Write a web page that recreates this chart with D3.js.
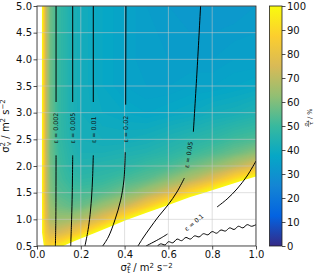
<!DOCTYPE html>
<html>
<head>
<meta charset="utf-8">
<script src="https://cdn.jsdelivr.net/npm/d3@7"></script>
<style>
  body { margin: 0; background: #fff; }
  svg { display: block; font-family: "DejaVu Sans", sans-serif; }
</style>
</head>
<body>
<svg id="chart" width="320" height="277"></svg>
<script>
// sigma_tau / tau in % on a coarse grid
// columns = sigma_t^2, rows = sigma_v^2 (bottom row first); >100 is blank
const gridX = [0, 0.02, 0.04, 0.06, 0.1, 0.15, 0.2, 0.3, 0.4, 0.5, 0.6, 0.7, 0.8, 0.9, 1.0]
const gridY = [0.5, 0.75, 1.0, 1.25, 1.5, 1.75, 2.0, 2.25, 2.5, 3.0, 3.5, 4.0, 5.0]
const ratio = [
  [200, 110, 92, 90, 96, 106, 115, 140, 170, 200, 200, 200, 200, 200, 200],
  [200, 103, 84, 76, 75, 80, 88, 106, 124, 150, 180, 200, 200, 200, 200],
  [200, 104, 78, 67, 64, 65, 68, 79, 97, 114, 130, 160, 180, 200, 200],
  [200, 104, 76, 64, 58, 56, 57, 64, 72, 86, 102, 118, 133, 160, 180],
  [200, 104, 74, 61, 54, 52, 52, 54, 59, 66, 76, 91, 105, 120, 133],
  [200, 104, 73, 60, 52, 49, 48, 49, 52, 55, 61, 68, 78, 92, 106],
  [200, 104, 73, 59, 51, 47, 45, 46, 47, 50, 52, 57, 62, 69, 78],
  [200, 104, 72, 58, 50, 46, 43, 43, 44, 45, 47, 50, 53, 57, 62],
  [200, 104, 72, 58, 49, 45, 42, 41, 41, 42, 44, 46, 48, 51, 53],
  [200, 104, 72, 58, 49, 44, 41, 39, 38, 37, 38, 39, 41, 42, 44],
  [200, 104, 72, 58, 49, 44, 41, 38, 36, 35, 35, 36, 36, 37, 38],
  [200, 104, 72, 58, 49, 44, 41, 38, 36, 34, 34, 34, 34, 35, 35],
  [200, 104, 72, 58, 49, 44, 41, 38, 36, 34, 33, 32, 32, 32, 33]
]

// epsilon contour lines (pieces are cut where the label sits)
const epsLines = [
  [[0.087, 5.0], [0.087, 3.2]],
  [[0.087, 2.2], [0.086, 1.0], [0.084, 0.5]],
  [[0.163, 5.0], [0.163, 3.2]],
  [[0.163, 2.2], [0.161, 1.5], [0.158, 1.0], [0.154, 0.5]],
  [[0.257, 5.0], [0.257, 3.2]],
  [[0.257, 2.2], [0.254, 1.8], [0.249, 1.4], [0.24, 1.0], [0.231, 0.75], [0.219, 0.5]],
  [[0.406, 5.0], [0.405, 3.15]],
  [[0.403, 2.26], [0.397, 1.74], [0.382, 1.36], [0.356, 0.99], [0.326, 0.67], [0.30, 0.5]],
  [[0.747, 5.0], [0.731, 3.8], [0.714, 2.64]],
  [[0.673, 1.775], [0.639, 1.512], [0.598, 1.269], [0.553, 1.044], [0.516, 0.837], [0.484, 0.65], [0.461, 0.5]],
  [[0.498, 0.5], [0.562, 0.64], [0.596, 0.725]],
  [[0.822, 1.231], [0.868, 1.381], [0.913, 1.569], [0.959, 1.812], [1.0, 2.094]]
]
// the noisy unlabelled contour at the bottom right
const wavyLine = [
  [0.55, 0.50], [0.565, 0.54], [0.585, 0.52], [0.60, 0.58], [0.62, 0.56], [0.64, 0.63],
  [0.66, 0.60], [0.68, 0.66], [0.70, 0.63], [0.72, 0.69], [0.74, 0.67], [0.76, 0.73],
  [0.78, 0.71], [0.80, 0.77], [0.82, 0.74], [0.84, 0.80], [0.86, 0.78], [0.88, 0.84],
  [0.90, 0.81], [0.92, 0.87], [0.94, 0.84], [0.96, 0.90], [0.98, 0.87], [1.0, 0.90]
]
const epsLabels = [
  { text: "ε = 0.002", x: 0.087, y: 2.71, angle: -90 },
  { text: "ε = 0.005", x: 0.163, y: 2.71, angle: -90 },
  { text: "ε = 0.01", x: 0.258, y: 2.68, angle: -90 },
  { text: "ε = 0.02", x: 0.404, y: 2.69, angle: -90 },
  { text: "ε = 0.05", x: 0.692, y: 2.21, angle: -81 },
  { text: "ε = 0.1", x: 0.717, y: 0.94, angle: -40 }
]

const xTicks = [0.0, 0.2, 0.4, 0.6, 0.8, 1.0]
const yTicks = [0.5, 1.0, 1.5, 2.0, 2.5, 3.0, 3.5, 4.0, 4.5, 5.0]
const cbTicks = [0, 10, 20, 30, 40, 50, 60, 70, 80, 90, 100]

const parula = ["#352a87", "#0363e1", "#1485d4", "#06a7c6", "#38b99e", "#92bf73", "#d9ba56", "#fcce2e", "#f9fb0e"]

const pLeft = 37, pRight = 256, pTop = 6, pBottom = 246
const svg = d3.select("#chart")

const x = d3.scaleLinear().domain([0, 1]).range([pLeft, pRight])
const y = d3.scaleLinear().domain([0.5, 5]).range([pBottom, pTop])
const color = d3.scaleLinear().domain(d3.range(9).map(i => i * 12.5)).range(parula).clamp(true)

svg.append("clipPath").attr("id", "plotclip")
  .append("rect").attr("x", pLeft).attr("y", pTop).attr("width", pRight - pLeft).attr("height", pBottom - pTop)

// filled field: one band per percent
const n = gridX.length, m = gridY.length
const ix = d3.scaleLinear().domain(d3.range(n)).range(gridX)
const iy = d3.scaleLinear().domain(d3.range(m)).range(gridY)
const proj = d3.geoTransform({
  point: function(px, py) { this.stream.point(x(ix(px - 0.5)), y(iy(py - 0.5))) }
})
const bands = d3.contours().size([n, m]).thresholds(d3.range(0, 101))(ratio.flat())

const plot = svg.append("g").attr("clip-path", "url(#plotclip)")
plot.append("rect").attr("x", pLeft).attr("y", pTop).attr("width", pRight - pLeft).attr("height", pBottom - pTop).attr("fill", color(0))
plot.selectAll("path.band").data(bands).join("path")
  .attr("class", "band")
  .attr("d", d3.geoPath(proj))
  .attr("fill", d => d.value >= 100 ? "#fff" : color(d.value + 0.5))

// grid
plot.selectAll("line.gx").data(xTicks).join("line")
  .attr("class", "gx")
  .attr("x1", d => x(d)).attr("x2", d => x(d)).attr("y1", pTop).attr("y2", pBottom)
  .attr("stroke", "#c8c8c8").attr("stroke-opacity", 0.7).attr("stroke-width", 0.8)
plot.selectAll("line.gy").data(yTicks).join("line")
  .attr("class", "gy")
  .attr("y1", d => y(d)).attr("y2", d => y(d)).attr("x1", pLeft).attr("x2", pRight)
  .attr("stroke", "#c8c8c8").attr("stroke-opacity", 0.7).attr("stroke-width", 0.8)

// epsilon contours
const line = d3.line().x(d => x(d[0])).y(d => y(d[1])).curve(d3.curveCatmullRom)
plot.selectAll("path.eps").data(epsLines.concat([wavyLine])).join("path")
  .attr("class", "eps")
  .attr("d", line).attr("fill", "none").attr("stroke", "#000").attr("stroke-width", 1)

plot.selectAll("text.lab").data(epsLabels).join("text")
  .attr("class", "lab")
  .attr("transform", d => `translate(${x(d.x)},${y(d.y)}) rotate(${d.angle})`)
  .attr("text-anchor", "middle").attr("dy", "0.35em")
  .attr("font-size", 6.3).attr("fill", "#111")
  .text(d => d.text)

// frame + axes
svg.append("rect").attr("x", pLeft).attr("y", pTop).attr("width", pRight - pLeft).attr("height", pBottom - pTop)
  .attr("fill", "none").attr("stroke", "#222").attr("stroke-width", 0.8)

const xAxis = svg.append("g").attr("transform", `translate(0,${pBottom})`)
  .call(d3.axisBottom(x).tickValues(xTicks).tickFormat(d3.format(".1f")).tickSize(3.5).tickPadding(1.5))
const yAxis = svg.append("g").attr("transform", `translate(${pLeft},0)`)
  .call(d3.axisLeft(y).tickValues(yTicks).tickFormat(d3.format(".1f")).tickSize(3.5).tickPadding(1.5))
;[xAxis, yAxis].forEach(a => {
  a.select(".domain").remove()
  a.selectAll("text").attr("font-size", 10).attr("font-family", "DejaVu Sans").attr("fill", "#111")
  a.selectAll("line").attr("stroke", "#222").attr("stroke-width", 0.8)
})

// axis labels
svg.append("text").attr("x", (pLeft + pRight) / 2).attr("y", 271)
  .attr("text-anchor", "middle").attr("font-size", 10).attr("fill", "#111")
  .call(t => {
    t.append("tspan").text("σ")
    t.append("tspan").attr("font-size", 7).attr("dy", -3.5).text("2")
    t.append("tspan").attr("font-size", 7).attr("dx", -4).attr("dy", 5.5).text("t")
    t.append("tspan").attr("dy", -2).text(" / m")
    t.append("tspan").attr("font-size", 7).attr("dy", -3.5).text("2")
    t.append("tspan").attr("dy", 3.5).text(" s")
    t.append("tspan").attr("font-size", 7).attr("dy", -3.5).text("−2")
  })

svg.append("text").attr("transform", `translate(9,${(pTop + pBottom) / 2}) rotate(-90)`)
  .attr("text-anchor", "middle").attr("font-size", 10).attr("fill", "#111")
  .call(t => {
    t.append("tspan").text("σ")
    t.append("tspan").attr("font-size", 7).attr("dy", -4).text("2")
    t.append("tspan").attr("font-size", 7).attr("dx", -4).attr("dy", 6).text("v")
    t.append("tspan").attr("dy", -2).text(" / m")
    t.append("tspan").attr("font-size", 7).attr("dy", -4).text("2")
    t.append("tspan").attr("dy", 4).text(" s")
    t.append("tspan").attr("font-size", 7).attr("dy", -4).text("−2")
  })

// colorbar
const cbLeft = 269.5, cbRight = 282
const cb = d3.scaleLinear().domain([0, 100]).range([pBottom, pTop])
const grad = svg.append("defs").append("linearGradient").attr("id", "cbgrad")
  .attr("x1", 0).attr("y1", 1).attr("x2", 0).attr("y2", 0)
grad.selectAll("stop").data(parula).join("stop")
  .attr("offset", (d, i) => i / (parula.length - 1)).attr("stop-color", d => d)
svg.append("rect").attr("x", cbLeft).attr("y", pTop).attr("width", cbRight - cbLeft).attr("height", pBottom - pTop)
  .attr("fill", "url(#cbgrad)").attr("stroke", "#222").attr("stroke-width", 0.8)
const cAxis = svg.append("g").attr("transform", `translate(${cbRight},0)`)
  .call(d3.axisRight(cb).tickValues(cbTicks).tickSize(3.5).tickPadding(1.5))
cAxis.select(".domain").remove()
cAxis.selectAll("text").attr("font-size", 10).attr("font-family", "DejaVu Sans").attr("fill", "#111")
cAxis.selectAll("line").attr("stroke", "#222").attr("stroke-width", 0.8)

// colorbar label: sigma_tau / tau  / %
const cl = svg.append("g").attr("transform", "translate(311.5,127) rotate(-90)").attr("fill", "#111")
cl.append("text").attr("x", 0.5).attr("y", -3.8).attr("font-size", 5.5)
  .call(t => {
    t.append("tspan").text("σ")
    t.append("tspan").attr("font-size", 4).attr("dy", 1.2).text("τ")
  })
cl.append("line").attr("x1", 0).attr("x2", 6.5).attr("y1", -2.9).attr("y2", -2.9).attr("stroke", "#111").attr("stroke-width", 0.5)
cl.append("text").attr("x", 2).attr("y", 1.8).attr("font-size", 5.5).text("τ")
cl.append("text").attr("x", 8).attr("y", 0).attr("font-size", 6.5).text("/ %")
</script>
</body>
</html>
